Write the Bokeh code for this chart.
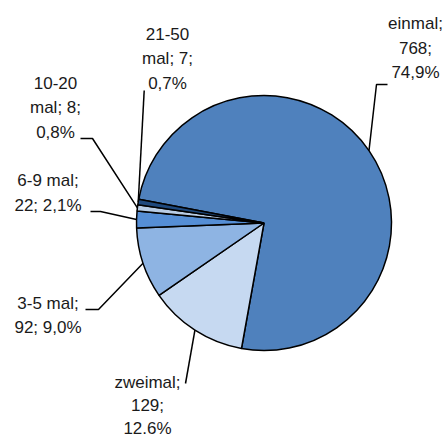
import math
from bokeh.plotting import figure
from bokeh.models import Range1d, ColumnDataSource
from bokeh.core.properties import value
from bokeh.embed import file_html
from bokeh.resources import INLINE

# ---- data ----
categories = ["einmal", "zweimal", "3-5 mal", "6-9 mal", "10-20 mal", "21-50 mal"]
counts = [768, 129, 92, 22, 8, 7]
percents = ["74,9%", "12.6%", "9,0%", "2,1%", "0,8%", "0,7%"]
label_texts = [
    "einmal;\n768;\n74,9%",
    "zweimal;\n129;\n12.6%",
    "3-5 mal;\n92; 9,0%",
    "6-9 mal;\n22; 2,1%",
    "10-20\nmal; 8;\n0,8%",
    "21-50\nmal; 7;\n0,7%",
]
colors = ["#4F81BD", "#C6D9F1", "#8EB4E3", "#558ED5", "#B9CDE5", "#1F497D"]

# ---- layout (image pixel coordinates) ----
W, H = 446, 436
CX, CY, R = 263.5, 222.5, 127.5
START_CW_DEG = 280.7  # clockwise from 12 o'clock
FONT = "Liberation Sans"
FS = 17
label_centers = [(415, 47.5), (147, 405), (47.5, 315), (47.5, 192.5), (55, 107), (167, 58)]
label_gaps = [24.5, 23, 24.5, 25, 24.5, 25]
leader_bends = [
    [(376, 84), (387, 84)],
    [(185, 383)],
    [(98, 309), (85, 309)],
    [(100, 211), (90, 211)],
    [(92, 138), (80, 138)],
    [(143.7, 90)],
]


def Y(y):
    return H - y


p = figure(width=W, height=H, output_backend="svg", toolbar_location=None,
           x_range=Range1d(0, W), y_range=Range1d(0, H),
           min_border=0)
p.axis.visible = False
p.grid.visible = False
p.outline_line_color = None
p.background_fill_color = "white"

total = sum(counts)
starts, ends, mids = [], [], []
acc = START_CW_DEG
for c in counts:
    sweep = 360.0 * c / total
    starts.append(acc)
    ends.append(acc + sweep)
    mids.append(acc + sweep / 2)
    acc += sweep


def to_math(deg_cw):
    return math.radians(90 - deg_cw)


src = ColumnDataSource(dict(
    x=[CX] * len(counts), y=[Y(CY)] * len(counts),
    start=[to_math(s) for s in starts], end=[to_math(e) for e in ends],
    color=colors,
))
p.wedge(x="x", y="y", radius=R, start_angle="start", end_angle="end",
        direction="clock", fill_color="color", line_color="black",
        line_width=1.5, source=src)

# leader lines
for m, bends in zip(mids, leader_bends):
    a = math.radians(m)
    ex = CX + R * math.sin(a)
    ey = CY - R * math.cos(a)
    xs = [ex] + [b[0] for b in bends]
    ys = [Y(ey)] + [Y(b[1]) for b in bends]
    p.line(xs, ys, line_color="black", line_width=1.5)

# labels
tx, ty, tt = [], [], []
for txt, (lx, ly), gap in zip(label_texts, label_centers, label_gaps):
    lines = txt.split("\n")
    n = len(lines)
    for i, ln in enumerate(lines):
        tx.append(lx)
        ty.append(Y(ly + (i - (n - 1) / 2) * gap))
        tt.append(ln)
p.text(x=tx, y=ty, text=tt, text_align="center", text_baseline="middle",
       text_font=value(FONT), text_font_size=f"{FS}px", text_color="#1a1a1a")

open("out.html", "w").write(file_html(p, INLINE))
